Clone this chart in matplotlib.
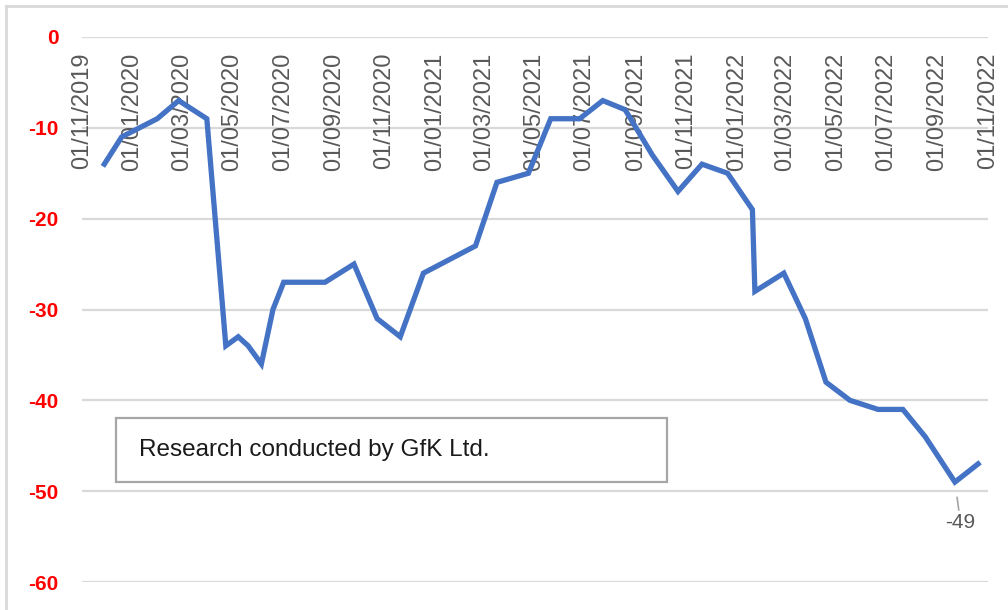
"""GfK consumer confidence index, Nov 2019 - Oct 2022."""

import matplotlib

matplotlib.use("Agg")
import matplotlib.dates as mdates
import matplotlib.pyplot as plt
import pandas as pd
from matplotlib.patches import Rectangle

DATES = [
    "2019-11-28", "2019-12-19", "2020-01-31", "2020-02-26", "2020-03-31",
    "2020-04-23", "2020-05-08", "2020-05-20", "2020-06-05", "2020-06-19",
    "2020-07-02", "2020-08-21", "2020-09-25", "2020-10-23", "2020-11-20",
    "2020-12-18", "2021-02-19", "2021-03-17", "2021-04-24", "2021-05-21",
    "2021-06-25", "2021-07-23", "2021-08-19", "2021-09-21", "2021-10-22",
    "2021-11-20", "2021-12-21", "2022-01-20", "2022-01-23", "2022-02-27",
    "2022-03-25", "2022-04-19", "2022-05-18", "2022-06-21", "2022-07-21",
    "2022-08-17", "2022-09-22", "2022-10-20",
]
CONFIDENCE = [
    -14, -11, -9, -7, -9,
    -34, -33, -34, -36, -30,
    -27, -27, -25, -31, -33,
    -26, -23, -16, -15, -9,
    -9, -7, -8, -13, -17,
    -14, -15, -19, -28, -26,
    -31, -38, -40, -41, -41,
    -44, -49, -47,
]
TICK_DATES = pd.date_range("2019-11-01", "2022-11-01", freq="2MS")
Y_TICKS = [0, -10, -20, -30, -40, -50, -60]
NOTE = "Research conducted by GfK Ltd."
LABELLED_DATE = "2022-09-22"

LINE_COLOR = "#4472C4"
GRID_COLOR = "#d9d9d9"
TICK_GRAY = "#595959"

W, H = 1008, 610
fig = plt.figure(figsize=(W / 100, H / 100), dpi=100)
plt.rcParams["font.family"] = ["Liberation Sans", "DejaVu Sans"]

# plot area in pixels: x 82..988, y 37 (0) .. 582 (-60)
ax = fig.add_axes([82 / W, 1 - 582 / H, (988 - 82) / W, (582 - 37) / H])

dates = pd.to_datetime(DATES)
ax.plot(dates, CONFIDENCE, color=LINE_COLOR, linewidth=3.8,
        solid_joinstyle="miter", zorder=3)

ax.set_xlim(TICK_DATES[0], TICK_DATES[-1])
ax.set_ylim(-60, 0)
ax.set_yticks(Y_TICKS)
ax.set_yticklabels([str(v) for v in Y_TICKS])
ax.tick_params(axis="y", length=0, pad=17, labelcolor="#ff0000", labelsize=15)
for lbl in ax.get_yticklabels():
    lbl.set_fontweight("bold")
ax.grid(axis="y", color=GRID_COLOR, linewidth=1.6)
ax.set_axisbelow(True)

# x labels sit just under the zero axis line, rotated, as in the Excel chart
ax.set_xticks(TICK_DATES)
ax.set_xticklabels([])
ax.tick_params(axis="x", length=0)
for d in TICK_DATES:
    ax.annotate(d.strftime("%d/%m/%Y"), xy=(mdates.date2num(d), 0),
                xytext=(0, -11), textcoords="offset points",
                rotation=90, ha="center", va="top",
                color=TICK_GRAY, fontsize=17, zorder=2)

for side in ("top", "bottom", "left", "right"):
    ax.spines[side].set_visible(False)

# data label on the low point
idx = DATES.index(LABELLED_DATE)
ax.annotate(str(CONFIDENCE[idx]), xy=(dates[idx], CONFIDENCE[idx]),
            xytext=(4, -29), textcoords="offset points",
            ha="center", va="center", color=TICK_GRAY, fontsize=15,
            arrowprops=dict(arrowstyle="-", color="#a6a6a6", lw=1.2,
                            shrinkA=0, shrinkB=11))

# note box
ax.add_patch(Rectangle((0.0375, 0.184), 0.6080, 0.117, transform=ax.transAxes,
                       facecolor="white", edgecolor="#a6a6a6", linewidth=1.6,
                       zorder=4))
ax.text(0.0625, 0.2425, NOTE, transform=ax.transAxes, ha="left", va="center",
        fontsize=17.5, color="#1a1a1a", zorder=5)

# chart-area frame (only top and left edges are visible in the crop)
fig.add_artist(plt.Line2D([6 / W, 1], [1 - 6 / H, 1 - 6 / H],
                          transform=fig.transFigure, color=GRID_COLOR, lw=2))
fig.add_artist(plt.Line2D([6 / W, 6 / W], [0, 1 - 6 / H],
                          transform=fig.transFigure, color=GRID_COLOR, lw=2))

fig.savefig("out.png", dpi=100, facecolor="white")
